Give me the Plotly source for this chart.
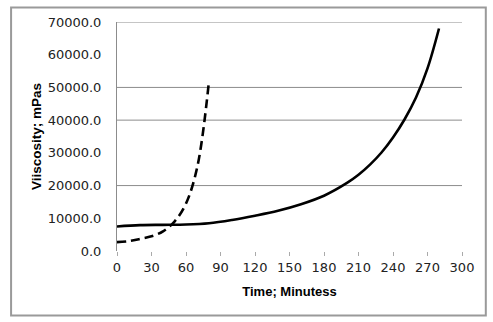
import plotly.graph_objects as go

# Viscosity build-up over time for two formulations
time_solid = [0, 20, 40, 60, 80, 100, 120, 140, 160, 180, 200, 210, 220, 230, 240, 250, 260, 270, 280]
visc_solid = [7500, 7900, 8000, 8100, 8500, 9500, 10800, 12300, 14300, 16900,
              20800, 23300, 26400, 30100, 34700, 40200, 46900, 55800, 68000]

time_dashed = [0, 10, 20, 30, 40, 50, 60, 70, 80]
visc_dashed = [2700, 3000, 3700, 4500, 6000, 9000, 14500, 26000, 52000]

x_ticks = [0, 30, 60, 90, 120, 150, 180, 210, 240, 270, 300]
y_ticks = [0, 10000, 20000, 30000, 40000, 50000, 60000, 70000]
grid_levels = [20000, 40000, 50000, 70000]

fig = go.Figure()
fig.add_trace(go.Scatter(
    x=time_solid, y=visc_solid, mode="lines", line_shape="spline",
    line=dict(color="black", width=2.6), showlegend=False,
))
fig.add_trace(go.Scatter(
    x=time_dashed, y=visc_dashed, mode="lines", line_shape="spline",
    line=dict(color="black", width=2.6, dash="9px,5px"), showlegend=False,
))

# chart frame (paper coordinates relative to the plot area)
shapes = [
    dict(type="rect", xref="paper", yref="paper", x0=-0.307, x1=1.069, y0=-0.282, y1=1.063,
         line=dict(color="#9a9a9a", width=2), layer="below"),
]
for g in grid_levels:
    shapes.append(dict(type="line", xref="x", yref="y", x0=0, x1=300, y0=g, y1=g,
                       line=dict(color="#8c8c8c", width=1), layer="below"))

fig.update_layout(
    width=493, height=322,
    margin=dict(l=117, r=31, t=22, b=71),
    paper_bgcolor="white", plot_bgcolor="white",
    font=dict(family="DejaVu Sans", color="black", size=13),
    shapes=shapes,
    xaxis=dict(
        range=[0, 300], tickvals=x_ticks, showgrid=False, zeroline=False,
        showline=False, ticks="outside", ticklen=4, tickcolor="#aaaaaa",
        tickfont=dict(size=13, family="DejaVu Sans", color="#222"),
        title=dict(text="Time; Minutess", standoff=13,
                   font=dict(family="Liberation Sans", size=13, weight="bold")),
    ),
    yaxis=dict(
        range=[0, 70000], tickvals=y_ticks, tickformat=".1f", showgrid=False,
        zeroline=False, showline=True, linecolor="#8c8c8c", linewidth=1,
        ticks="", ticklabelstandoff=12,
        tickfont=dict(size=13, family="DejaVu Sans", color="#222"),
        title=dict(text="Viiscosity; mPas", standoff=2,
                   font=dict(family="Liberation Sans", size=13.5, weight="bold")),
    ),
)

fig.write_html("out.html")
